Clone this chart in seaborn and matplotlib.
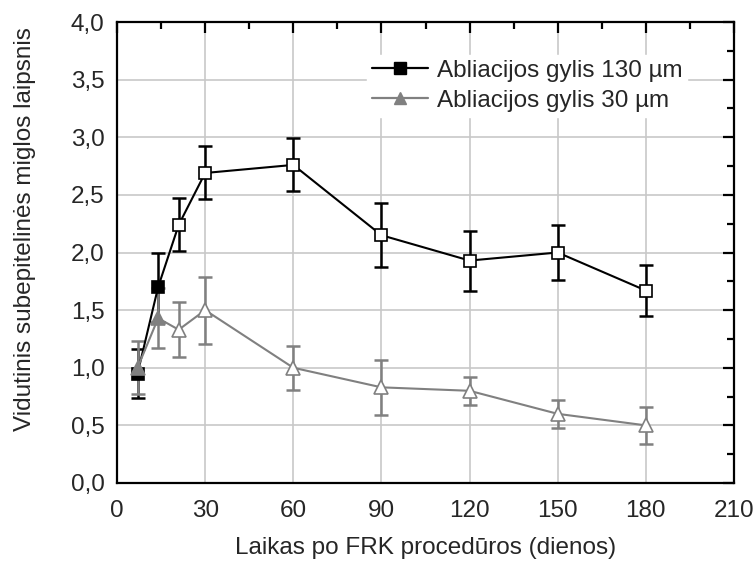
import matplotlib
matplotlib.use("Agg")
import matplotlib.pyplot as plt
import seaborn as sns
import pandas as pd
import numpy as np
from matplotlib.ticker import MultipleLocator, FuncFormatter
from matplotlib.lines import Line2D

days = [7, 14, 21, 30, 60, 90, 120, 150, 180]
mean_130 = [0.95, 1.70, 2.24, 2.69, 2.76, 2.15, 1.93, 2.00, 1.67]
err_130 = [0.21, 0.30, 0.23, 0.23, 0.23, 0.28, 0.26, 0.24, 0.22]
mean_30 = [1.00, 1.43, 1.33, 1.50, 1.00, 0.83, 0.80, 0.60, 0.50]
err_30 = [0.23, 0.26, 0.24, 0.29, 0.19, 0.24, 0.12, 0.12, 0.16]
labels = ["Abliacijos gylis 130 µm", "Abliacijos gylis 30 µm"]
filled = [True, True, False, False, False, False, False, False, False]

sns.set_theme(style="white")
plt.rcParams['font.family'] = ['Liberation Sans', 'DejaVu Sans']

W, H = 755, 565
L, R, T, B = 117, 734, 22, 483
fig = plt.figure(figsize=(W / 100, H / 100), dpi=100)
ax = fig.add_axes([L / W, 1 - B / H, (R - L) / W, (B - T) / H])

df = pd.DataFrame({
    "day": days * 2,
    "value": mean_130 + mean_30,
    "series": [labels[0]] * len(days) + [labels[1]] * len(days),
})
colors = {labels[0]: "black", labels[1]: "#808080"}
sns.lineplot(data=df, x="day", y="value", hue="series", palette=colors,
             linewidth=1.5, ax=ax, legend=False, zorder=3)

for means, errs, col, mk in [(mean_130, err_130, "black", "s"), (mean_30, err_30, "#808080", "^")]:
    ax.errorbar(days, means, yerr=errs, fmt="none", ecolor=col, elinewidth=1.8,
                capsize=5, capthick=1.8, zorder=2)
    for d, m, f in zip(days, means, filled):
        ax.plot([d], [m], marker=mk, markersize=10 if mk == "^" else 8.5,
                markerfacecolor=col if f else "white", markeredgecolor=col,
                markeredgewidth=1.2, linestyle="none", zorder=4)

ax.set_xlim(0, 210)
ax.set_ylim(0, 4.0)
ax.xaxis.set_major_locator(MultipleLocator(30))
ax.xaxis.set_minor_locator(MultipleLocator(15))
ax.yaxis.set_major_locator(MultipleLocator(0.5))
ax.yaxis.set_minor_locator(MultipleLocator(0.25))
ax.yaxis.set_major_formatter(FuncFormatter(lambda v, p: f"{v:.1f}".replace(".", ",")))
ax.grid(True, which="major", color="#c8c8c8", linewidth=1.2, zorder=0)
ax.set_axisbelow(True)
for s in ax.spines.values():
    s.set_color("black")
    s.set_linewidth(1.6)
ax.tick_params(which="both", direction="in", top=True, right=True, color="black",
               width=1.6, labelsize=17.5)
ax.tick_params(axis="x", which="major", pad=12)
ax.tick_params(axis="y", which="major", pad=9)
ax.tick_params(which="major", length=8)
ax.tick_params(which="minor", length=5)

ax.set_xlabel("Laikas po FRK procedūros (dienos)", fontsize=17.5)
ax.set_ylabel("Vidutinis subepitelinės miglos laipsnis", fontsize=17.5)
ax.xaxis.set_label_coords(0.5, (B - 537) / (B - T))
ax.yaxis.set_label_coords((36 - L) / (R - L), (B - 229) / (B - T))

handles = [
    Line2D([], [], color="black", marker="s", markersize=8, linewidth=1.6),
    Line2D([], [], color="#808080", marker="^", markersize=9, linewidth=1.6),
]
ax.legend(handles, labels, loc="upper left", bbox_to_anchor=(367 / W, 1 - 55 / H),
          bbox_transform=fig.transFigure, borderaxespad=0,
          frameon=True, facecolor="white", edgecolor="white", framealpha=1,
          fontsize=17.5, handlelength=2.3, handletextpad=0.37, labelspacing=0.32,
          borderpad=0.2)

fig.savefig("out.png", dpi=100)
